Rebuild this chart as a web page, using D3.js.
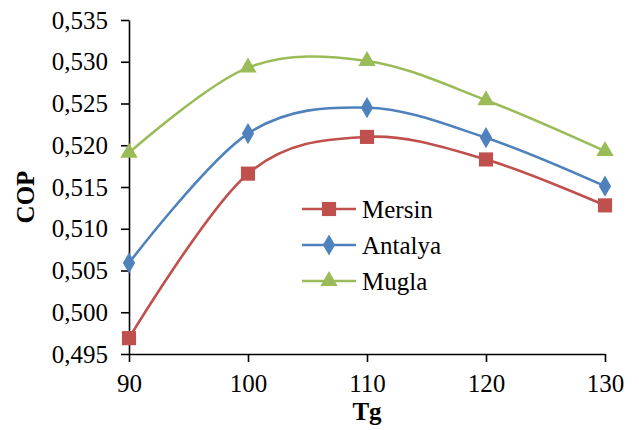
<!DOCTYPE html>
<html>
<head>
<meta charset="utf-8">
<script src="https://cdn.jsdelivr.net/npm/d3@7"></script>
<style>
  body { margin: 0; background: #fff; }
</style>
</head>
<body>
<div id="container"></div>
<script>
// chart values
const tg = [90, 100, 110, 120, 130]
const mersin = [0.4969, 0.5166, 0.5210, 0.5183, 0.5128]
const antalya = [0.5059, 0.5214, 0.5245, 0.5209, 0.5151]
const mugla = [0.5191, 0.5293, 0.5301, 0.5254, 0.5193]
const yTicks = [0.495, 0.500, 0.505, 0.510, 0.515, 0.520, 0.525, 0.530, 0.535]
const xTicks = [90, 100, 110, 120, 130]

const FONT = "'Liberation Serif', 'Times New Roman', 'DejaVu Serif', serif"

const series = [
  { name: "Mersin", values: mersin, color: "#C0504D", symbol: d3.symbolSquare, size: 200 },
  { name: "Antalya", values: antalya, color: "#4F81BD", symbol: d3.symbolDiamond, size: 130 },
  { name: "Mugla", values: mugla, color: "#9BBB59", symbol: d3.symbolTriangle, size: 130 }
]

const W = 639, H = 430
const margin = { top: 20, right: 34, bottom: 76, left: 129 }
const width = W - margin.left - margin.right
const height = H - margin.top - margin.bottom

const svg = d3.select("#container")
  .append("svg")
  .attr("width", W)
  .attr("height", H)
  .style("background-color", "#fff")
  .append("g")
  .attr("transform", `translate(${margin.left}, ${margin.top})`)

const xScale = d3.scaleLinear().domain([90, 130]).range([0, width])
const yScale = d3.scaleLinear().domain([0.495, 0.535]).range([height, 0])

// axes
const xAxis = svg.append("g")
  .attr("transform", `translate(0, ${height})`)
  .call(d3.axisBottom(xScale).tickValues(xTicks).tickSize(8).tickPadding(12).tickSizeOuter(0))
xAxis.attr("font-family", null)
xAxis.select(".domain").attr("stroke-width", 1.6)
xAxis.selectAll(".tick line").attr("stroke-width", 1.6)
xAxis.selectAll("text").style("font-family", FONT).style("font-size", "25px").attr("fill", "#000")

const yAxis = svg.append("g")
  .call(d3.axisLeft(yScale).tickValues(yTicks).tickSize(8).tickPadding(13).tickSizeOuter(0)
    .tickFormat(d => d3.format(".3f")(d).replace(".", ",")))
yAxis.attr("font-family", null)
yAxis.select(".domain").attr("stroke-width", 1.6)
yAxis.selectAll(".tick line").attr("stroke-width", 1.6)
yAxis.selectAll("text").style("font-family", FONT).style("font-size", "25px").attr("fill", "#000")

// axis titles
svg.append("text")
  .attr("x", width / 2)
  .attr("y", height + 66)
  .attr("text-anchor", "middle")
  .style("font-family", FONT)
  .style("font-size", "25px")
  .style("font-weight", "bold")
  .text("Tg")

svg.append("text")
  .attr("transform", `translate(${-margin.left + 34}, ${height / 2 + 10}) rotate(-90)`)
  .attr("text-anchor", "middle")
  .style("font-family", FONT)
  .style("font-size", "25px")
  .style("font-weight", "bold")
  .text("COP")

// smoothed lines like Excel
const line = d3.line()
  .x((d, i) => xScale(tg[i]))
  .y(d => yScale(d))
  .curve(d3.curveCardinal.tension(0))

series.forEach(s => {
  svg.append("path")
    .datum(s.values)
    .attr("fill", "none")
    .attr("stroke", s.color)
    .attr("stroke-width", 2.6)
    .attr("d", line)

  svg.append("g")
    .selectAll("path")
    .data(s.values)
    .join("path")
    .attr("transform", (d, i) => `translate(${xScale(tg[i])}, ${yScale(d)})`)
    .attr("d", d3.symbol().type(s.symbol).size(s.size))
    .attr("fill", s.color)
})

// legend
const legend = svg.append("g")
  .attr("transform", `translate(${302 - margin.left}, ${209 - margin.top})`)

series.forEach((s, i) => {
  const g = legend.append("g").attr("transform", `translate(0, ${i * 36})`)
  g.append("line")
    .attr("x1", 0).attr("x2", 54)
    .attr("stroke", s.color)
    .attr("stroke-width", 2.6)
  g.append("path")
    .attr("transform", "translate(27, 0)")
    .attr("d", d3.symbol().type(s.symbol).size(s.size))
    .attr("fill", s.color)
  g.append("text")
    .attr("x", 60)
    .attr("y", 9)
    .style("font-family", FONT)
    .style("font-size", "25px")
    .text(s.name)
})
</script>
</body>
</html>
